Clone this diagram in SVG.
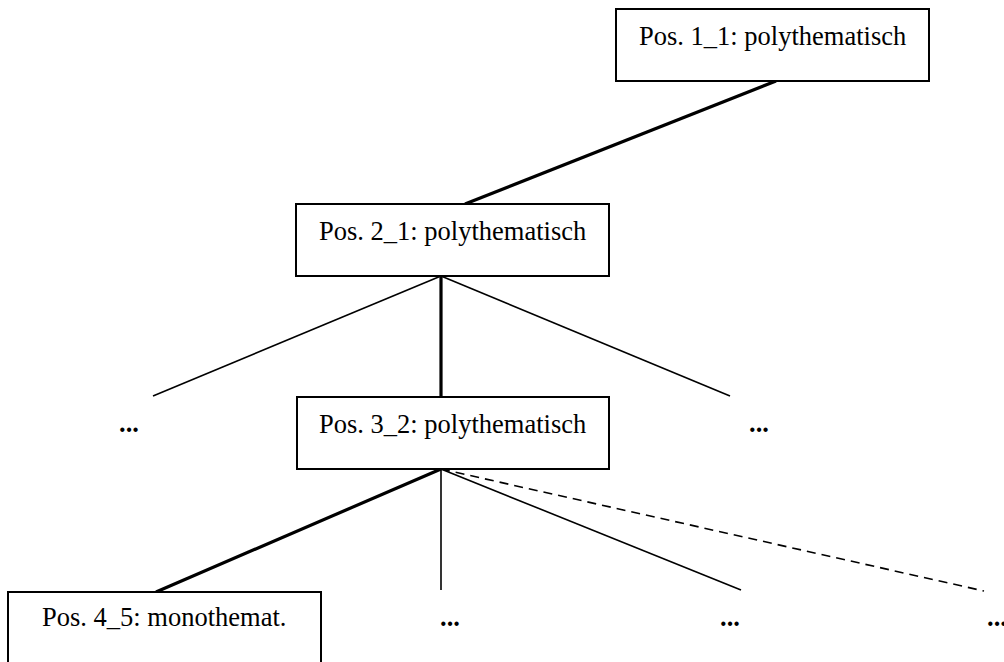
<svg xmlns="http://www.w3.org/2000/svg" width="1004" height="662" viewBox="0 0 1004 662">
  <style>
    .box { fill: #ffffff; stroke: #000000; stroke-width: 2; }
    .lbl { font-family: "Liberation Serif", "Times New Roman", serif; font-size: 26.5px; fill: #000000; }
    .dots { font-family: "Liberation Serif", "Times New Roman", serif; font-size: 26.5px; font-weight: bold; fill: #000000; }
    .thick { stroke: #000000; stroke-width: 3.2; fill: none; }
    .thin { stroke: #000000; stroke-width: 1.6; fill: none; }
    .dash { stroke: #000000; stroke-width: 1.6; fill: none; stroke-dasharray: 9 6; }
  </style>
  <rect width="1004" height="662" fill="#ffffff"/>

  <!-- connectors -->
  <g id="connectors">
    <line class="thick" x1="776" y1="81" x2="465" y2="204"/>
    <line class="thin" x1="441" y1="276" x2="153" y2="396"/>
    <line class="thick" x1="441" y1="276" x2="441" y2="397"/>
    <line class="thin" x1="441" y1="276" x2="730" y2="396"/>
    <line class="thick" x1="441" y1="469" x2="156" y2="592"/>
    <line class="thin" x1="441" y1="469" x2="441" y2="590"/>
    <line class="thin" x1="441" y1="469" x2="741" y2="590"/>
    <line class="dash" x1="441" y1="469" x2="984" y2="591"/>
  </g>

  <g id="node-1-1">
    <rect class="box" x="616" y="9" width="313" height="72"/>
    <text class="lbl" x="639" y="45">Pos. 1_1: polythematisch</text>
  </g>

  <g id="node-2-1">
    <rect class="box" x="296" y="204" width="313" height="72"/>
    <text class="lbl" x="319" y="240">Pos. 2_1: polythematisch</text>
  </g>

  <g id="node-3-2">
    <rect class="box" x="297" y="397" width="312" height="72"/>
    <text class="lbl" x="319" y="433">Pos. 3_2: polythematisch</text>
  </g>

  <g id="node-4-5">
    <rect class="box" x="8" y="592" width="313" height="80"/>
    <text class="lbl" x="42" y="626">Pos. 4_5: monothemat.</text>
  </g>

  <!-- elided siblings -->
  <g id="more-3-left"><text class="dots" x="119" y="432">...</text></g>
  <g id="more-3-right"><text class="dots" x="749" y="432">...</text></g>
  <g id="more-4-a"><text class="dots" x="440" y="626">...</text></g>
  <g id="more-4-b"><text class="dots" x="720" y="626">...</text></g>
  <g id="more-4-c"><text class="dots" x="987" y="626">...</text></g>
</svg>
